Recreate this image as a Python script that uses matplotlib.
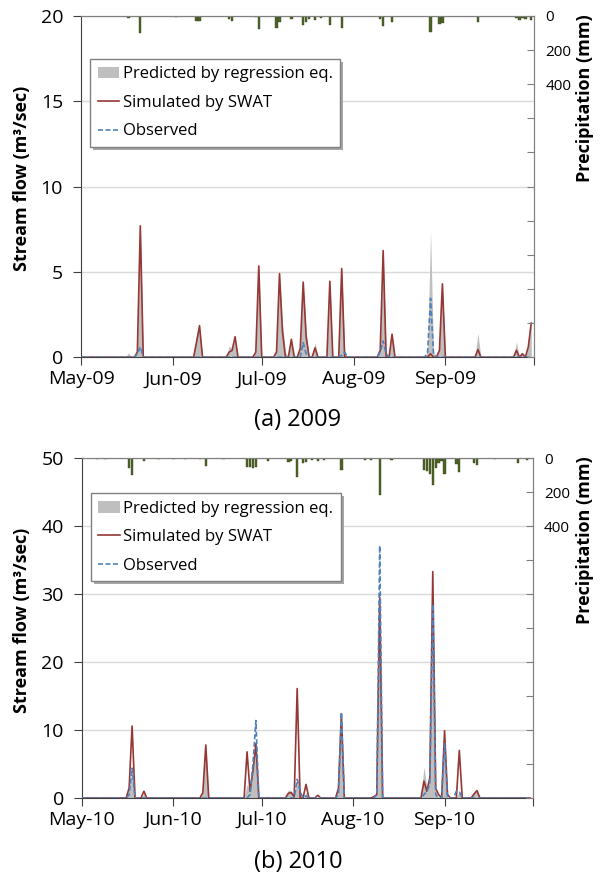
import matplotlib

matplotlib.use("Agg")
import matplotlib.patheffects as pe
import matplotlib.pyplot as plt
import numpy as np
import pandas as pd
from matplotlib.lines import Line2D
from matplotlib.patches import Patch

plt.rcParams["font.family"] = ["Open Sans", "DejaVu Sans"]

# Daily values, May 1 - Sep 30; days not listed are zero.
# ---- 2009 ----
SIM_2009 = {
    "05-20": 0.3, "05-21": 7.7, "06-09": 0.9, "06-10": 1.85, "06-20": 0.3, "06-21": 0.4,
    "06-22": 1.2, "06-29": 0.3, "06-30": 5.35, "07-06": 0.3, "07-07": 4.9, "07-08": 1.5,
    "07-11": 1.05, "07-14": 0.5, "07-15": 4.4, "07-16": 1.2, "07-19": 0.55, "07-24": 4.45,
    "07-28": 5.2, "08-10": 0.4, "08-11": 6.25, "08-14": 1.35, "08-27": 0.2, "08-30": 0.4,
    "08-31": 4.3, "09-12": 0.45, "09-25": 0.4, "09-27": 0.2, "09-29": 0.6, "09-30": 2.0,
}
OBS_2009 = {
    "05-20": 0.2, "05-21": 0.6, "07-15": 0.85, "07-16": 0.2, "07-28": 0.1, "07-29": 0.3,
    "08-10": 0.3, "08-11": 0.95, "08-12": 0.2, "08-26": 0.3, "08-27": 3.45, "08-28": 0.2,
}
PRED_2009 = {
    "05-17": 0.25, "05-20": 0.3, "05-21": 7.7, "06-02": 0.05, "06-09": 1.3, "06-10": 1.8,
    "06-20": 0.65, "06-21": 0.5, "06-22": 1.1, "06-29": 0.3, "06-30": 5.3, "07-06": 0.4,
    "07-07": 4.9, "07-08": 2.0, "07-09": 0.3, "07-11": 1.0, "07-14": 0.6, "07-15": 4.4,
    "07-16": 1.5, "07-19": 0.85, "07-24": 4.4, "07-28": 5.2, "07-29": 0.3, "08-10": 0.5,
    "08-11": 6.2, "08-12": 0.3, "08-14": 1.3, "08-26": 0.4, "08-27": 7.35, "08-28": 0.3,
    "08-30": 0.5, "08-31": 4.3, "09-12": 1.4, "09-25": 0.9, "09-27": 0.3, "09-29": 0.6,
    "09-30": 2.0,
}
RAIN_2009 = {
    "05-03": 3, "05-12": 3, "05-17": 12, "05-21": 98, "06-02": 5, "06-09": 30, "06-10": 30,
    "06-20": 20, "06-21": 30, "06-29": 8, "06-30": 75, "07-06": 70, "07-07": 35,
    "07-11": 20, "07-15": 55, "07-16": 38, "07-17": 20, "07-19": 25, "07-21": 10,
    "07-24": 55, "07-28": 70, "08-02": 3, "08-04": 3, "08-06": 3, "08-08": 3, "08-10": 16,
    "08-11": 62, "08-14": 35, "08-22": 3, "08-27": 95, "08-30": 45, "08-31": 40,
    "09-12": 35, "09-25": 15, "09-26": 25, "09-27": 12, "09-28": 20, "09-30": 25,
}

# ---- 2010 ----
SIM_2010 = {
    "05-17": 1.5, "05-18": 10.6, "05-22": 1.0, "06-11": 0.8, "06-12": 7.8, "06-26": 6.8,
    "06-27": 1.0, "06-28": 4.0, "06-29": 8.0, "07-10": 0.7, "07-11": 0.8, "07-12": 0.2,
    "07-13": 16.1, "07-16": 2.0, "07-20": 0.4, "07-27": 1.4, "07-28": 12.4, "08-08": 0.2,
    "08-09": 0.5, "08-10": 29.5, "08-25": 2.5, "08-26": 1.0, "08-27": 3.0, "08-28": 33.3,
    "08-29": 1.4, "08-30": 0.5, "09-01": 9.9, "09-02": 0.5, "09-06": 7.0, "09-11": 0.6,
    "09-12": 1.1,
}
OBS_2010 = {
    "05-17": 0.5, "05-18": 4.4, "06-27": 0.5, "06-28": 5.0, "06-29": 11.4, "07-13": 2.75,
    "07-14": 1.0, "07-16": 0.3, "07-27": 0.5, "07-28": 12.6, "08-09": 0.5, "08-10": 37.1,
    "08-25": 0.5, "08-26": 1.0, "08-27": 2.0, "08-28": 28.5, "08-29": 0.5, "09-01": 8.0,
    "09-05": 1.0, "09-06": 0.9,
}
PRED_2010 = {
    "05-06": 0.1, "05-17": 1.5, "05-18": 4.5, "05-22": 0.6, "06-11": 0.8, "06-12": 7.8,
    "06-26": 2.0, "06-27": 1.0, "06-28": 5.0, "06-29": 8.0, "07-03": 0.3, "07-10": 1.2,
    "07-11": 1.0, "07-13": 3.0, "07-14": 1.0, "07-16": 0.8, "07-27": 1.4, "07-28": 12.0,
    "08-08": 0.3, "08-09": 0.5, "08-10": 28.5, "08-25": 4.6, "08-26": 1.5, "08-27": 3.0,
    "08-28": 28.5, "08-29": 1.0, "09-01": 8.0, "09-06": 1.0, "09-11": 0.8, "09-12": 1.2,
    "09-26": 0.2,
}
RAIN_2010 = {
    "05-06": 5, "05-09": 4, "05-17": 60, "05-18": 100, "05-22": 20, "05-27": 3, "06-01": 3,
    "06-05": 3, "06-10": 3, "06-12": 45, "06-18": 5, "06-26": 50, "06-27": 55, "06-28": 60,
    "06-29": 50, "07-03": 15, "07-10": 25, "07-11": 20, "07-13": 110, "07-15": 30,
    "07-16": 25, "07-18": 12, "07-20": 15, "07-22": 10, "07-28": 70, "08-05": 10,
    "08-07": 10, "08-10": 220, "08-14": 10, "08-25": 70, "08-26": 75, "08-27": 95,
    "08-28": 160, "08-29": 60, "08-30": 30, "08-31": 20, "09-01": 95, "09-05": 35,
    "09-06": 80, "09-11": 30, "09-12": 40, "09-18": 5, "09-26": 30, "09-29": 10,
}

MONTHS = ["May", "Jun", "Jul", "Aug", "Sep"]

RED = "#953735"
BLUE = "#4f81bd"
GRAY = "#bfbfbf"
BAR = "#4f6228"


def daily(year, values):
    """Expand a sparse {MM-DD: value} dict into a daily series."""
    days = pd.date_range(f"{year}-05-01", f"{year}-09-30", freq="D")
    s = pd.Series(0.0, index=days)
    for k, v in values.items():
        s[pd.Timestamp(f"{year}-{k}")] = v
    return s


def panel(fig, rect, year, sim, obs, pred, rain, ymax, ystep, legend_top):
    ax = fig.add_axes(rect)
    s_sim, s_obs, s_pred = daily(year, sim), daily(year, obs), daily(year, pred)
    s_rain = daily(year, rain)
    x = s_sim.index

    ax.fill_between(x, s_pred.values, color=GRAY, lw=0, zorder=2)
    ax.plot(x, s_sim.values, color=RED, lw=1.2, zorder=3)
    ax.plot(x, s_obs.values, color=BLUE, lw=1.2, ls=(0, (3, 1.5)), zorder=4)

    ax.set_ylim(0, ymax)
    ax.set_yticks(np.arange(0, ymax + 1, ystep))
    ax.yaxis.grid(True, color="#d9d9d9", lw=1)
    ax.set_axisbelow(True)
    ticks = [pd.Timestamp(f"{year}-{m:02d}-01") for m in range(5, 11)]
    ax.set_xlim(ticks[0], ticks[-1])
    ax.set_xticks(ticks)
    ax.set_xticklabels([f"{m}-{year % 100:02d}" for m in MONTHS] + [""])
    ax.tick_params(labelsize=14, color="#404040", length=6, direction="out")
    ax.tick_params(axis="y", pad=7)
    for side in ("left", "bottom"):
        ax.spines[side].set_color("#404040")
    for side in ("top", "right"):
        ax.spines[side].set_color("#808080")

    ax2 = ax.twinx()
    ax2.bar(x, s_rain.values, width=0.8, color=BAR, edgecolor="#3a4a1a", lw=0.3)
    ax2.set_ylim(2000, 0)
    ax2.set_yticks(np.arange(0, 2001, 200))
    ax2.set_yticklabels(["0", "200", "400"] + [""] * 8)
    ax2.tick_params(labelsize=11, direction="in", length=5, color="#808080", pad=8)
    ax2.spines["right"].set_color("#808080")
    ax2.spines["top"].set_color("#808080")
    ax2.spines["left"].set_visible(False)
    ax2.spines["bottom"].set_visible(False)

    handles = [
        Patch(facecolor=GRAY, edgecolor="none"),
        Line2D([], [], color=RED, lw=1.2),
        Line2D([], [], color=BLUE, lw=1.2, ls=(0, (3, 1.5))),
    ]
    labels = ["Predicted by regression eq.", "Simulated by SWAT", "Observed"]
    leg = ax2.legend(
        handles, labels, loc="upper left", bbox_to_anchor=(0.02, legend_top),
        borderaxespad=0, fontsize=12, frameon=True, fancybox=False, framealpha=1,
        edgecolor="#808080", handlelength=1.3, handletextpad=0.2, labelspacing=0.75,
        borderpad=0.45,
    )
    frame = leg.get_frame()
    frame.set_linewidth(1.0)
    frame.set_path_effects([
        pe.SimplePatchShadow(offset=(2, -2), shadow_rgbFace="#a6a6a6", alpha=1),
        pe.Normal(),
    ])
    return ax


fig = plt.figure(figsize=(6.05, 8.82), dpi=100)

panel(fig, [0.134, 0.595, 0.749, 0.387], 2009, SIM_2009, OBS_2009, PRED_2009, RAIN_2009,
      20, 5, 0.874)
panel(fig, [0.1355, 0.0952, 0.7455, 0.3855], 2010, SIM_2010, OBS_2010, PRED_2010, RAIN_2010,
      50, 10, 0.897)

ylab = "Stream flow (m\u00b3/sec)"
fig.text(22 / 605, 1 - 178 / 882, ylab, rotation=90, ha="center", va="center",
         fontsize=13, fontweight="bold")
fig.text(22 / 605, 1 - 620 / 882, ylab, rotation=90, ha="center", va="center",
         fontsize=13, fontweight="bold")
fig.text(585 / 605, 1 - 98 / 882, "Precipitation (mm)", rotation=90, ha="center",
         va="center", fontsize=13, fontweight="bold")
fig.text(585 / 605, 1 - 540 / 882, "Precipitation (mm)", rotation=90, ha="center",
         va="center", fontsize=13, fontweight="bold")
fig.text(298 / 605, 1 - 420 / 882, "(a) 2009", ha="center", va="center", fontsize=17)
fig.text(298 / 605, 1 - 862 / 882, "(b) 2010", ha="center", va="center", fontsize=17)

fig.savefig("out.png", dpi=100)
